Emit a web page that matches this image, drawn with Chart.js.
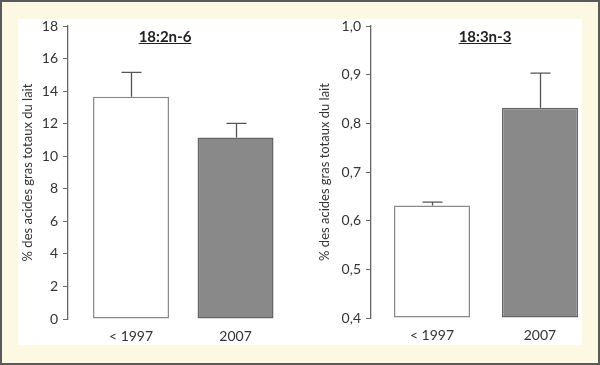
<!DOCTYPE html>
<html>
<head>
<meta charset="utf-8">
<script src="https://cdn.jsdelivr.net/npm/chart.js@4"></script>
<style>
  html, body { margin: 0; padding: 0; }
  body { width: 600px; height: 365px; position: relative; overflow: hidden; background: #fdf8e2; font-family: Lato, sans-serif; }
  .frame { position: absolute; left: 0; top: 0; width: 596px; height: 361px; border: 2px solid #5a5a5a; }
  .panel { position: absolute; left: 18px; top: 19px; width: 564px; height: 326px; background: #fff; }
  .box { position: absolute; top: 0; width: 300px; height: 365px; }
  .title { position: absolute; top: 27px; font-weight: bold; font-size: 15px; color: #222; text-decoration: underline; transform: translateX(-50%); white-space: nowrap; }
</style>
</head>
<body>
<div class="frame"></div>
<div class="panel"></div>
<div class="box" style="left:0"><canvas id="left"></canvas></div>
<div class="box" style="left:300px"><canvas id="right"></canvas></div>
<div class="title" style="left:165px">18:2n-6</div>
<div class="title" style="left:485px">18:3n-3</div>
<script>
// data
var categories = ['< 1997', '2007'];
var linoleic = [13.65, 11.15];
var linoleicErr = [1.5, 0.87];
var linolenic = [0.631, 0.832];
var linolenicErr = [0.007, 0.071];
var yTitle = '% des acides gras totaux du lait';

var barFill = ['#ffffff', '#898989'];
var barBorder = ['#8a8a8a', '#666666'];

// draws the error bar (upper part only) above each bar
const errorBars = {
    id: 'errorBars',
    afterDatasetsDraw(chart, args, opts) {
        const ctx = chart.ctx;
        const meta = chart.getDatasetMeta(0);
        const y = chart.scales.y;
        ctx.save();
        ctx.strokeStyle = '#555';
        ctx.lineWidth = 1.3;
        meta.data.forEach((bar, i) => {
            const v = chart.data.datasets[0].data[i].y;
            const top = y.getPixelForValue(v + opts.errors[i]);
            const x = Math.round(bar.x) + 0.5;
            ctx.beginPath();
            ctx.moveTo(x, y.getPixelForValue(v));
            ctx.lineTo(x, top);
            ctx.moveTo(x - 10, top);
            ctx.lineTo(x + 10, top);
            ctx.stroke();
        });
        ctx.restore();
    }
};

function makeChart(id, values, errors, opt) {
    const ctx = document.getElementById(id).getContext('2d');
    return new Chart(ctx, {
        type: 'bar',
        data: {
            datasets: [{
                data: values.map((v, i) => ({ x: i, y: v })),
                base: opt.min,
                backgroundColor: barFill,
                borderColor: barBorder,
                borderWidth: 1.5,
                borderSkipped: false,
                barPercentage: 1,
                categoryPercentage: opt.barFrac
            }]
        },
        options: {
            responsive: false,
            animation: false,
            events: [],
            layout: { padding: { top: 26, right: opt.right, left: 0, bottom: 0 } },
            plugins: {
                legend: { display: false },
                tooltip: { enabled: false },
                errorBars: { errors: errors }
            },
            scales: {
                x: {
                    type: 'linear',
                    offset: false,
                    min: opt.xMin,
                    max: opt.xMax,
                    grid: { display: false, drawTicks: false },
                    border: { display: false },
                    afterBuildTicks: axis => { axis.ticks = categories.map((c, i) => ({ value: i })); },
                    afterFit: axis => { axis.height = opt.xHeight; },
                    ticks: {
                        padding: 9,
                        color: '#333',
                        font: { family: 'Lato', size: 14 },
                        callback: v => categories[v]
                    }
                },
                y: {
                    min: opt.min,
                    max: opt.max,
                    afterFit: axis => { axis.width = opt.yWidth; },
                    grid: { drawOnChartArea: false, tickLength: 5, color: '#666' },
                    border: { color: '#666', width: 1.3 },
                    ticks: {
                        stepSize: opt.step,
                        padding: 5,
                        color: '#333',
                        font: { family: 'Lato', size: 14 },
                        callback: opt.fmt
                    },
                    title: {
                        display: true,
                        text: yTitle,
                        color: '#333',
                        font: { family: 'Lato', size: 13 },
                        padding: { top: opt.titlePad, bottom: 0 }
                    }
                }
            }
        },
        plugins: [errorBars]
    });
}

document.getElementById('left').width = 300;
document.getElementById('left').height = 365;
document.getElementById('right').width = 300;
document.getElementById('right').height = 365;

makeChart('left', linoleic, linoleicErr, {
    min: 0, max: 18, step: 2, fmt: v => v,
    xMin: -0.603, xMax: 1.502, barFrac: 0.727,
    right: 12, yWidth: 68, xHeight: 46, titlePad: 20
});
makeChart('right', linolenic, linolenicErr, {
    min: 0.4, max: 1.0, step: 0.1, fmt: v => v.toFixed(1).replace('.', ','),
    xMin: -0.565, xMax: 1.389, barFrac: 0.704,
    right: 18, yWidth: 71, xHeight: 47, titlePad: 17
});
</script>
</body>
</html>
